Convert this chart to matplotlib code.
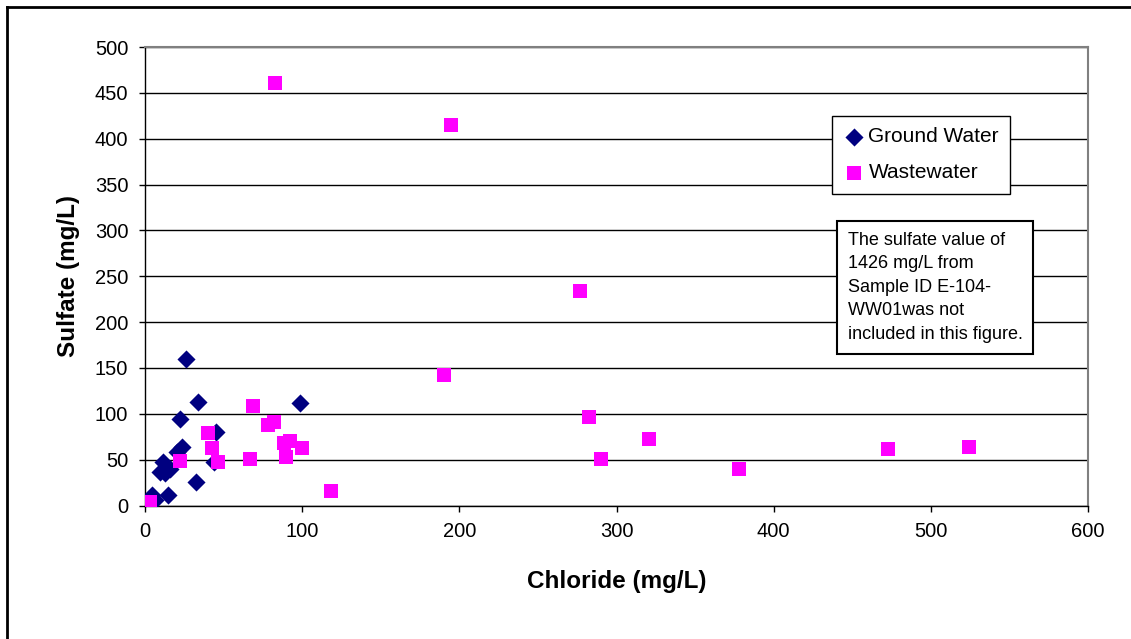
import matplotlib
matplotlib.use("Agg")
from matplotlib import pyplot as plt
from matplotlib.lines import Line2D

plt.rcParams['font.family'] = ['Liberation Sans', 'DejaVu Sans']

# Ground water samples
gw_chloride = [33.6, 98.9, 22.3, 45.3, 23.4, 20.2, 11.7, 13.8, 9.6, 12.5,
               15.9, 43.6, 32.5, 14.9, 4.2, 6.4, 3.0, 26.0]
gw_sulfate = [113.3, 111.5, 94.0, 80.5, 64.2, 58.7, 47.8, 42.3, 36.9, 35.0,
              40.0, 47.8, 26.0, 11.5, 11.5, 6.0, 5.0, 159.5]

# Wastewater samples
ww_chloride = [69.0, 78.2, 82.3, 40.0, 42.5, 22.3, 46.3, 66.5, 88.6, 92.0,
               89.7, 99.7, 3.2, 118.6, 82.9, 194.5, 276.8, 190.0, 282.5,
               290.0, 320.8, 378.0, 472.6, 524.2]
ww_sulfate = [109.0, 87.8, 91.5, 78.8, 63.0, 48.6, 47.8, 50.4, 67.9, 70.4,
              52.6, 63.0, 3.5, 15.8, 461.0, 415.0, 234.0, 142.0, 96.6,
              50.7, 72.6, 39.8, 61.7, 63.8]

note = ("The sulfate value of\n1426 mg/L from\nSample ID E-104-\n"
        "WW01was not\nincluded in this figure.")

fig = plt.figure(figsize=(11.31, 6.39), dpi=100)
ax = fig.add_axes([0.1282, 0.2089, 0.8338, 0.7175])

ax.scatter(gw_chloride, gw_sulfate, marker='D', s=85, color='#000080',
           linewidths=0, label='Ground Water', zorder=3)
ax.scatter(ww_chloride, ww_sulfate, marker='s', s=100, color='#FF00FF',
           linewidths=0, label='Wastewater', zorder=4)

ax.set_xlim(0, 600)
ax.set_ylim(0, 500)
ax.set_xticks(range(0, 601, 100))
ax.set_yticks(range(0, 501, 50))
ax.yaxis.grid(True, color='black', linewidth=1)
ax.set_axisbelow(True)
ax.tick_params(labelsize=14.5, direction='out', length=4, width=1, pad=8)
for s in ['top', 'right']:
    ax.spines[s].set_color('#808080')
    ax.spines[s].set_linewidth(1.5)
for s in ['left', 'bottom']:
    ax.spines[s].set_color('black')
    ax.spines[s].set_linewidth(1)

ax.set_xlabel('Chloride (mg/L)', fontsize=17.5, fontweight='bold', labelpad=21)
ax.set_ylabel('Sulfate (mg/L)', fontsize=17.5, fontweight='bold', labelpad=11)

leg = ax.legend(loc='upper left', bbox_to_anchor=(0.7285, 0.8495), fontsize=15,
                frameon=True, fancybox=False, edgecolor='black',
                borderpad=0.55, handletextpad=0.2, labelspacing=0.8,
                handlelength=1.0, scatterpoints=1, borderaxespad=0)
leg.get_frame().set_linewidth(1)
leg.get_frame().set_alpha(1)

ax.text(0.745, 0.597, note, transform=ax.transAxes, fontsize=13,
        va='top', ha='left', linespacing=1.5, zorder=6,
        bbox=dict(boxstyle='square,pad=0.6', facecolor='white',
                  edgecolor='black', linewidth=1.5))

# outer chart frame (top and left edges visible)
fig.add_artist(Line2D([0.0062, 1.0], [0.989, 0.989], transform=fig.transFigure,
                      color='black', linewidth=2))
fig.add_artist(Line2D([0.0062, 0.0062], [0.0, 0.989], transform=fig.transFigure,
                      color='black', linewidth=2))

fig.savefig('out.png', dpi=100)
